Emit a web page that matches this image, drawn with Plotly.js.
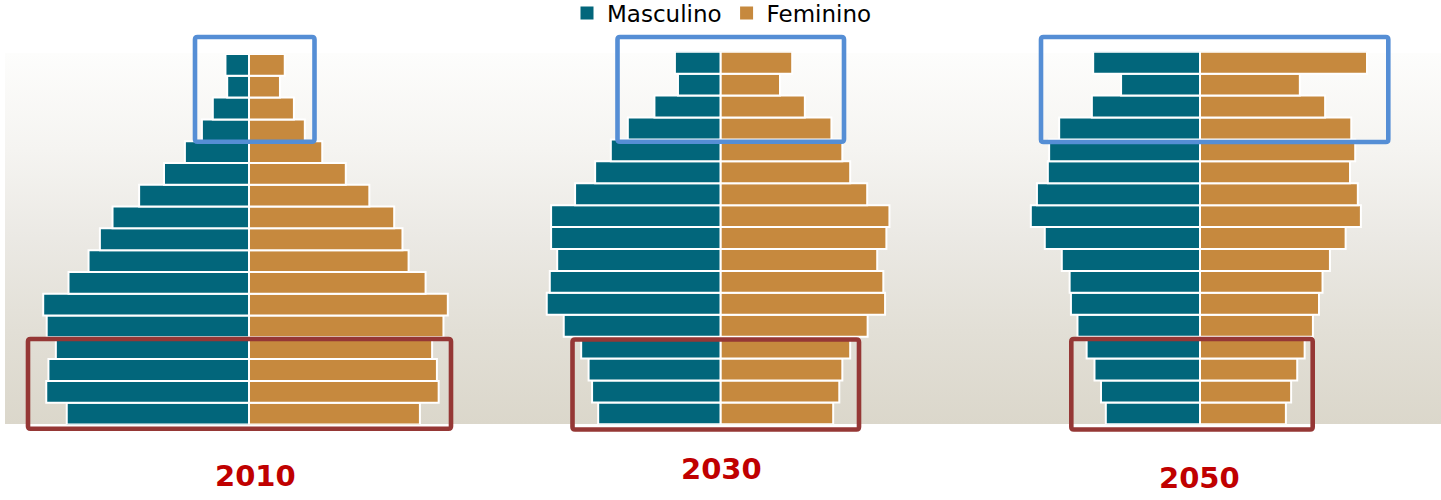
<!DOCTYPE html>
<html>
<head>
<meta charset="utf-8">
<script src="https://cdn.plot.ly/plotly-3.0.1.min.js"></script>
<style>html,body{margin:0;padding:0;background:#fff;}#chart{width:1441px;height:500px;}</style>
</head>
<body>
<div id="chart"></div>
<script>
// Age groups, bottom (youngest) to top (oldest)
const ageGroups = ['0-4','5-9','10-14','15-19','20-24','25-29','30-34','35-39','40-44','45-49','50-54','55-59','60-64','65-69','70-74','75-79','80+'];
const years = ['2010','2030','2050'];
const seriesNames = ['Masculino','Feminino'];

// Share of population (%)
const male2010   = [4.18,4.65,4.60,4.43,4.64,4.72,4.14,3.68,3.42,3.13,2.52,1.95,1.47,1.08,0.83,0.50,0.54];
const female2010 = [3.92,4.35,4.31,4.20,4.46,4.56,4.05,3.66,3.52,3.33,2.76,2.22,1.68,1.28,1.03,0.71,0.82];
const male2030   = [2.81,2.95,3.03,3.20,3.60,3.99,3.92,3.75,3.89,3.89,3.34,2.88,2.52,2.13,1.52,0.98,1.05];
const female2030 = [2.58,2.72,2.79,2.97,3.37,3.77,3.73,3.59,3.80,3.87,3.36,2.97,2.79,2.54,1.93,1.36,1.64];
const male2050   = [2.16,2.27,2.42,2.60,2.81,2.96,2.99,3.17,3.56,3.88,3.74,3.49,3.46,3.23,2.48,1.81,2.45];
const female2050 = [1.97,2.09,2.23,2.40,2.59,2.73,2.81,2.98,3.34,3.69,3.62,3.44,3.56,3.47,2.87,2.29,3.83];

const maleSeries = [male2010, male2030, male2050];
const femaleSeries = [female2010, female2030, female2050];

const W = 1441, H = 500;
const px = v => v / W;
const py = v => 1 - v / H;

const teal = '#02667B';
const orange = '#C6893E';

// layout geometry (pixels)
const centers = [249, 720.7, 1200];
const halfW = 230;
const pxPerUnit = 43.6;
const yDomains = [[54, 424.5], [51.8, 424.3], [51.8, 424.3]];

const traces = [];
// legend-only entries (square swatches)
[teal, orange].forEach((c, k) => traces.push({
  type: 'scatter', mode: 'markers', name: seriesNames[k], x: [null], y: [null],
  marker: {symbol: 'square', size: 13, color: c}, showlegend: true, hoverinfo: 'skip'
}));
for (let i = 0; i < 3; i++) {
  const xa = i === 0 ? 'x' : 'x' + (i + 1);
  const ya = i === 0 ? 'y' : 'y' + (i + 1);
  traces.push({
    type: 'bar', orientation: 'h', name: seriesNames[0], showlegend: false,
    y: ageGroups, x: maleSeries[i].map(v => -v), xaxis: xa, yaxis: ya,
    marker: {color: teal, line: {color: '#ffffff', width: 2}}, hoverinfo: 'skip'
  });
  traces.push({
    type: 'bar', orientation: 'h', name: seriesNames[1], showlegend: false,
    y: ageGroups, x: femaleSeries[i], xaxis: xa, yaxis: ya,
    marker: {color: orange, line: {color: '#ffffff', width: 2}}, hoverinfo: 'skip'
  });
}

const layout = {
  width: W, height: H,
  margin: {l: 0, r: 0, t: 0, b: 0, pad: 0, autoexpand: false},
  paper_bgcolor: '#ffffff',
  plot_bgcolor: 'rgba(0,0,0,0)',
  barmode: 'relative',
  bargap: 0,
  font: {family: 'DejaVu Sans', color: '#000000'},
  showlegend: true,
  legend: {
    orientation: 'h', x: px(722), xanchor: 'center', y: 1.017, yanchor: 'top',
    font: {family: 'DejaVu Sans', size: 23, color: '#000'},
    bgcolor: 'rgba(0,0,0,0)', traceorder: 'normal', itemclick: false
  },
  images: [{
    source: 'data:image/svg+xml;charset=utf-8,' + encodeURIComponent(
      "<svg xmlns='http://www.w3.org/2000/svg' width='100' height='100' viewBox='0 0 100 100' preserveAspectRatio='none'>" +
      "<defs><linearGradient id='g' x1='0' y1='0' x2='0' y2='1'>" +
      "<stop offset='0' stop-color='#fdfdfc'/><stop offset='0.26' stop-color='#f5f4f1'/>" +
      "<stop offset='0.5' stop-color='#ebe9e4'/><stop offset='0.75' stop-color='#e2dfd6'/>" +
      "<stop offset='1' stop-color='#dbd7cb'/></linearGradient></defs>" +
      "<rect x='0' y='0' width='100' height='100' fill='url(#g)'/></svg>"),
    xref: 'paper', yref: 'paper', x: px(5), y: py(53), sizex: px(1436), sizey: (424 - 53) / H,
    xanchor: 'left', yanchor: 'top', sizing: 'stretch', layer: 'below'
  }],
  shapes: [],
  annotations: []
};

const hiddenAxis = {visible: false, showgrid: false, zeroline: false, showticklabels: false, fixedrange: true};
for (let i = 0; i < 3; i++) {
  const sfx = i === 0 ? '' : String(i + 1);
  layout['xaxis' + sfx] = Object.assign({}, hiddenAxis, {
    domain: [px(centers[i] - halfW), px(centers[i] + halfW)],
    range: [-halfW / pxPerUnit, halfW / pxPerUnit],
    anchor: 'y' + sfx
  });
  layout['yaxis' + sfx] = Object.assign({}, hiddenAxis, {
    type: 'category', categoryorder: 'array', categoryarray: ageGroups,
    domain: [py(yDomains[i][1]), py(yDomains[i][0])],
    range: [-0.5, ageGroups.length - 0.5],
    anchor: 'x' + sfx
  });
}

// rounded rectangle path in paper coordinates
function roundRect(x0, x1, y0, y1, r) {
  const rx = r / W, ry = r / H;
  const X0 = px(x0), X1 = px(x1), Yt = py(y0), Yb = py(y1);
  return `M${X0 + rx},${Yt} L${X1 - rx},${Yt} Q${X1},${Yt} ${X1},${Yt - ry} L${X1},${Yb + ry} Q${X1},${Yb} ${X1 - rx},${Yb} ` +
         `L${X0 + rx},${Yb} Q${X0},${Yb} ${X0},${Yb + ry} L${X0},${Yt - ry} Q${X0},${Yt} ${X0 + rx},${Yt} Z`;
}

// highlight boxes (pixels: x0, x1, y0, y1)
const blueBoxes = [[195, 314.5, 37, 141.7], [617.5, 844, 37, 141.8], [1041, 1388.3, 37, 142]];
const redBoxes = [[28, 451, 339, 428.7], [572.5, 859, 339.5, 429.5], [1071.3, 1312.7, 339, 429.5]];
blueBoxes.forEach(b => layout.shapes.push({
  type: 'path', xref: 'paper', yref: 'paper', path: roundRect(b[0], b[1], b[2], b[3], 2.5),
  line: {color: '#558ED5', width: 4.6}, fillcolor: 'rgba(0,0,0,0)', layer: 'above'
}));
redBoxes.forEach(b => layout.shapes.push({
  type: 'path', xref: 'paper', yref: 'paper', path: roundRect(b[0], b[1], b[2], b[3], 2.5),
  line: {color: '#953735', width: 4.6}, fillcolor: 'rgba(0,0,0,0)', layer: 'above'
}));

// year labels
const yearPos = [[255, 476], [721.3, 469], [1199, 478]];
years.forEach((yr, i) => layout.annotations.push({
  text: '<b>' + yr + '</b>', xref: 'paper', yref: 'paper', x: px(yearPos[i][0]), y: py(yearPos[i][1]),
  xanchor: 'center', yanchor: 'middle', showarrow: false,
  font: {family: 'DejaVu Sans', size: 29, color: '#C00000'}
}));

Plotly.newPlot('chart', traces, layout, {displayModeBar: false, staticPlot: true});
</script>
</body>
</html>
